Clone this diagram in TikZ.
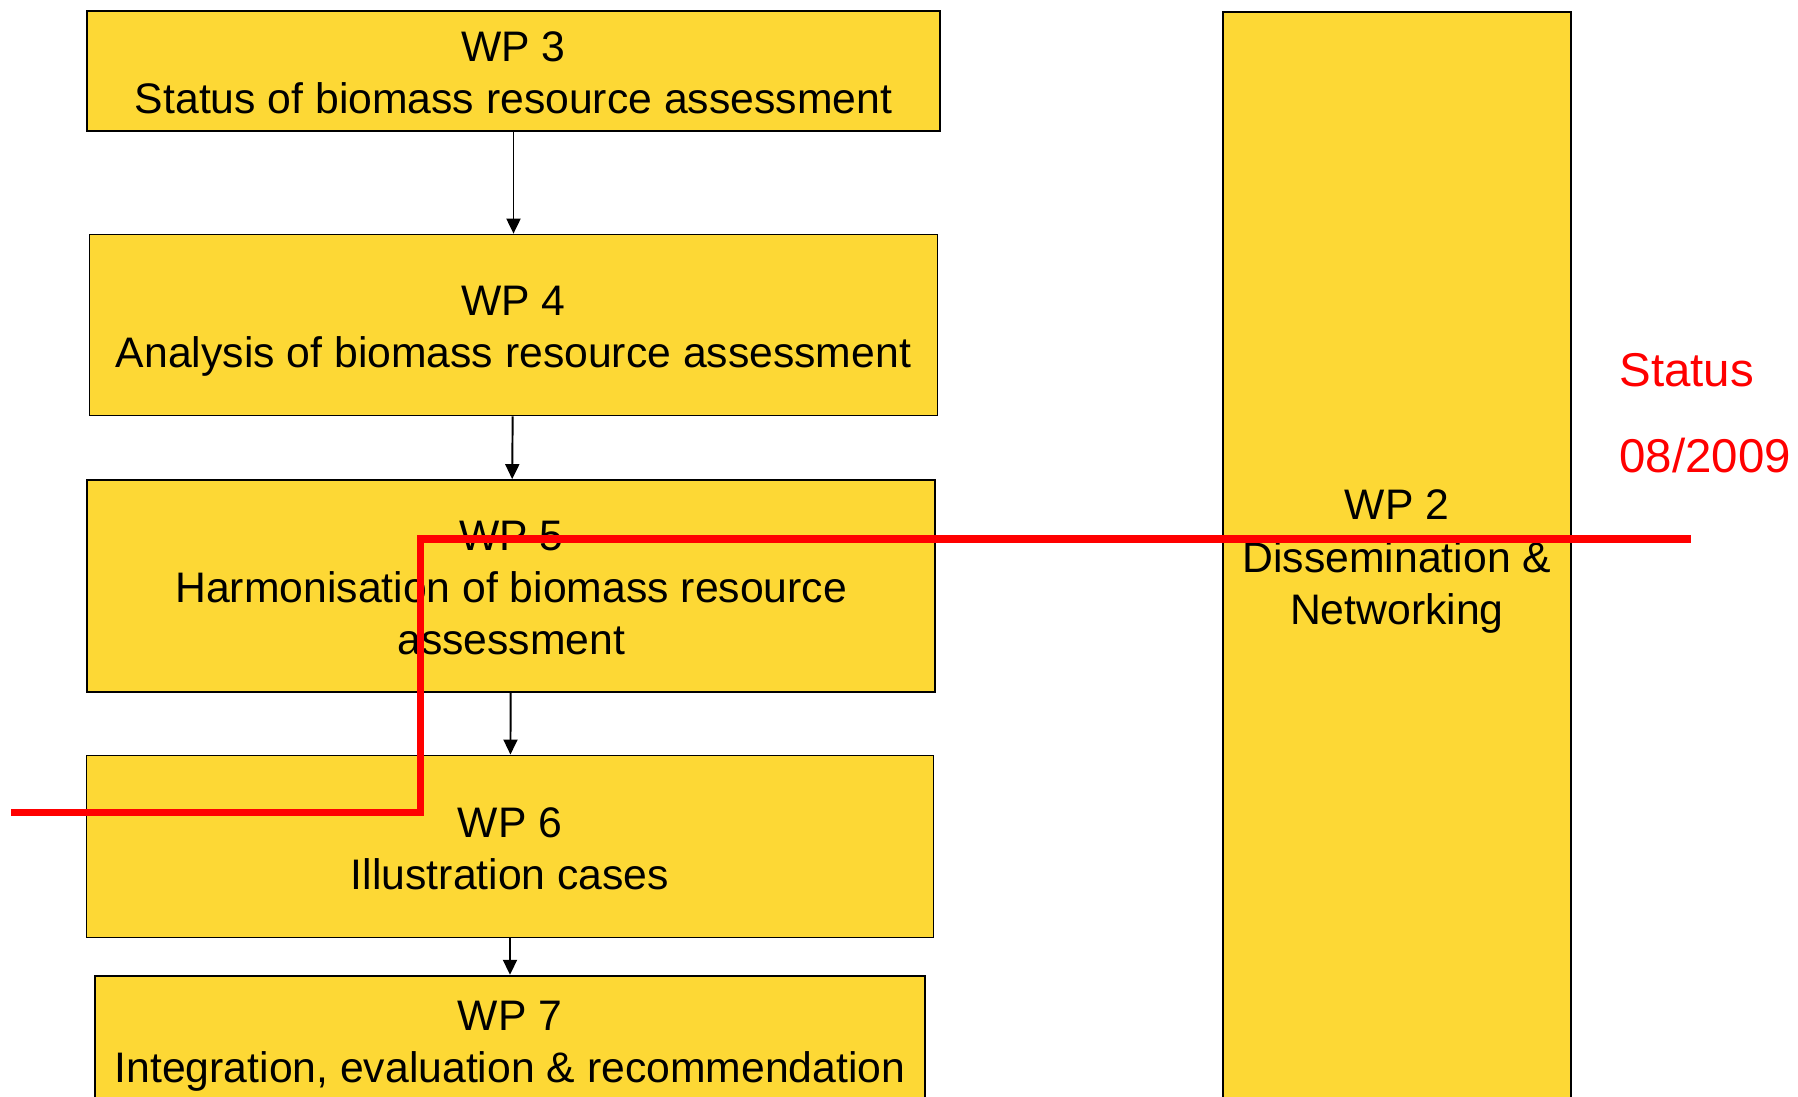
\documentclass[tikz,border=0pt]{standalone}
\usepackage{fontspec}
\setmainfont{Liberation Sans}
\usetikzlibrary{arrows.meta, positioning}
\definecolor{wpyellow}{RGB}{253,216,53}
\newcommand{\wptop}{\rule{0pt}{24.4pt}}
\newcommand{\wpbot}{\rule[-5.2pt]{0pt}{5.2pt}}
\tikzset{wpbox/.style={rectangle,draw,line width=1pt,fill=wpyellow,align=center,inner sep=0pt,font=\fontsize{24.3}{29.6}\selectfont},
         arrow/.style={-{Triangle[length=3mm,width=2.8mm]},line width=1.1pt},
         statusline/.style={red,line width=4.4pt},
         statustext/.style={text=red,align=left,inner sep=0pt,font=\fontsize{27}{49}\selectfont}}

\begin{document}
\begin{tikzpicture}
  \useasboundingbox (0,0) rectangle (35.96,-21.94);
  \node (wp3) [wpbox, minimum width=17.06cm, minimum height=2.39cm] at (10.27,-1.42) {\wptop WP 3\\Status of biomass resource assessment\wpbot};
  \node (wp4) [wpbox, below=2.04cm of wp3, minimum width=16.96cm, minimum height=3.62cm] {\wptop WP 4\\Analysis of biomass resource assessment\wpbot};
  \node (wp5) [wpbox, below=1.254cm of wp4, xshift=-0.046cm, minimum width=16.96cm, minimum height=4.24cm] {\wptop WP 5\\Harmonisation of biomass resource\\assessment\wpbot};
  \node (wp6) [wpbox, below=1.234cm of wp5, xshift=-0.024cm, minimum width=16.94cm, minimum height=3.64cm] {\wptop WP 6\\Illustration cases\wpbot};
  \node (wp7) [wpbox, below=0.73cm of wp6, minimum width=16.6cm, minimum height=2.54cm] {\wptop WP 7\\Integration, evaluation \& recommendation\wpbot};
  \node (wp2) [wpbox, anchor=north west, minimum width=6.96cm, minimum height=21.71cm] at (24.44,-0.23) {\wptop WP 2\\Dissemination \&\\Networking\wpbot};
  % flow between the work packages
  \draw[arrow] (wp3) -- (wp4);
  \draw[arrow] (wp4) -- (wp5);
  \draw[arrow] (wp5) -- (wp6);
  \draw[arrow] (wp6) -- (wp7);
  % status line across the plan
  \coordinate (sl-start) at (0.22,-16.25);
  \coordinate (sl-step) at (8.41,-10.78);
  \coordinate (sl-end) at (33.82,-10.78);
  \draw[statusline] (sl-start) -| (sl-step) -- (sl-end);
  \node (status) [statustext, anchor=west] at (32.38,-8.26) {Status\\08/2009};
\end{tikzpicture}
\end{document}
